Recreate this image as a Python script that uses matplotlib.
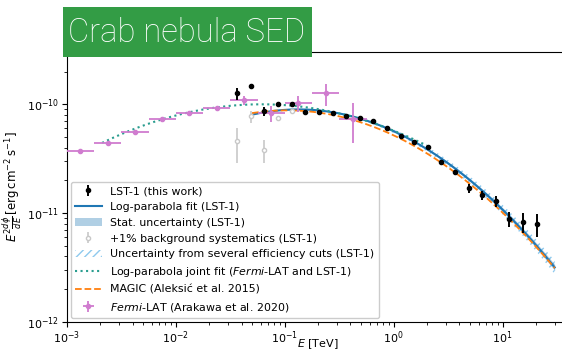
import numpy as np
import matplotlib
matplotlib.use("Agg")
import matplotlib.pyplot as plt
from matplotlib.patches import Rectangle

TEV_TO_ERG = 1.602

# LST-1 flux points (E in TeV, E^2 dN/dE in erg cm-2 s-1)
lst_energy = [0.0365, 0.0487, 0.0649, 0.0866, 0.1155, 0.154, 0.205, 0.274, 0.365, 0.487,
              0.649, 0.866, 1.155, 1.54, 2.05, 2.74, 3.65, 4.87, 6.49, 8.66, 11.5, 15.4, 20.5]
lst_flux = [1.26e-10, 1.46e-10, 8.6e-11, 1.0e-10, 1.0e-10, 8.45e-11, 8.45e-11, 8.26e-11, 7.76e-11,
            7.44e-11, 6.98e-11, 6.02e-11, 5.09e-11, 4.48e-11, 4.03e-11, 2.94e-11, 2.38e-11,
            1.69e-11, 1.46e-11, 1.29e-11, 8.8e-12, 8.26e-12, 7.94e-12]
lst_flux_err = [1.6e-11, 0.6e-11, 0.8e-11, 0.3e-11, 0.3e-11, 0.25e-11, 0.2e-11, 0.2e-11, 0.2e-11,
                0.2e-11, 0.2e-11, 0.15e-11, 0.15e-11, 0.13e-11, 0.13e-11, 0.1e-11, 0.12e-11,
                0.15e-11, 0.13e-11, 0.14e-11, 1.4e-12, 1.7e-12, 1.9e-12]

# +1% background systematics points
bkg_energy = [0.0365, 0.0487, 0.0649, 0.0866, 0.1155]
bkg_flux = [4.58e-11, 7.76e-11, 3.78e-11, 7.44e-11, 8.6e-11]
bkg_err_lo = [1.7e-11, 1.0e-11, 0.9e-11, 0.4e-11, 0.3e-11]
bkg_err_hi = [1.42e-11, 1.0e-11, 0.9e-11, 0.4e-11, 0.3e-11]

# Fermi-LAT (Arakawa et al. 2020)
fermi_energy = [0.00133, 0.00237, 0.00422, 0.0075, 0.0133, 0.0237, 0.0422, 0.075, 0.133, 0.237, 0.422]
fermi_e_min = [0.001, 0.00178, 0.00316, 0.00562, 0.01, 0.0178, 0.0316, 0.0562, 0.1, 0.178, 0.316]
fermi_e_max = [0.00178, 0.00316, 0.00562, 0.01, 0.0178, 0.0316, 0.0562, 0.1, 0.178, 0.316, 0.562]
fermi_flux = [3.71e-11, 4.39e-11, 5.53e-11, 7.28e-11, 8.27e-11, 9.19e-11, 1.09e-10, 8.27e-11,
              1.02e-10, 1.26e-10, 7.28e-11]
fermi_flux_err = [0.05e-11, 0.05e-11, 0.08e-11, 0.1e-11, 0.15e-11, 0.3e-11, 1.1e-11, 1.4e-11,
                  1.7e-11, 2.9e-11, 2.9e-11]

# log-parabola parameters: f0 [TeV-1 cm-2 s-1], E0 [TeV], alpha, beta (log10 base)
lst_fit = (3.05e-10, 0.4, 2.25, 0.2625)
lst_stat_hi = (3.07e-10, 0.4, 2.245, 0.258)
lst_stat_lo = (3.03e-10, 0.4, 2.255, 0.267)
lst_syst_hi = (3.12e-10, 0.4, 2.235, 0.256)
lst_syst_lo = (2.98e-10, 0.4, 2.265, 0.269)
lst_range = (0.05, 30.0)
joint_fit = (3.57e-11, 1.0, 2.40, 0.165)
joint_range = (0.0021, 2.0)
magic_fit = (3.23e-11, 1.0, 2.47, 0.24)
magic_range = (0.05, 30.0)


def sed(e, pars):
    f0, e0, a, b = pars
    x = np.log10(e / e0)
    return TEV_TO_ERG * e ** 2 * f0 * 10 ** (-(a + b * x) * x)


fig = plt.figure(figsize=(5.62, 3.51), dpi=100)
ax = fig.add_axes([0.1192, 0.0826, 0.911, 0.7692])
ax.set_xscale("log")
ax.set_yscale("log")

e_lst = np.logspace(np.log10(lst_range[0]), np.log10(lst_range[1]), 200)
e_joint = np.logspace(np.log10(joint_range[0]), np.log10(joint_range[1]), 200)
e_magic = np.logspace(np.log10(magic_range[0]), np.log10(magic_range[1]), 200)

h_lst = ax.errorbar(lst_energy, lst_flux, yerr=lst_flux_err, fmt="o", color="black",
                    ms=3, elinewidth=1.4, zorder=6, label="LST-1 (this work)")
h_fit, = ax.plot(e_lst, sed(e_lst, lst_fit), color="C0", lw=1.5, zorder=4,
                 label="Log-parabola fit (LST-1)")
h_stat = ax.fill_between(e_lst, sed(e_lst, lst_stat_lo), sed(e_lst, lst_stat_hi),
                         color="C0", alpha=0.35, lw=0, zorder=3,
                         label="Stat. uncertainty (LST-1)")
h_bkg = ax.errorbar(bkg_energy, bkg_flux, yerr=[bkg_err_lo, bkg_err_hi], fmt="o",
                    color="#c8c8c8", mfc="white", ms=3, elinewidth=1.2, zorder=5,
                    label="+1% background systematics (LST-1)")
h_syst = ax.fill_between(e_lst, sed(e_lst, lst_syst_lo), sed(e_lst, lst_syst_hi),
                         facecolor="none", edgecolor="#8ec9ee", hatch="////", lw=0, zorder=2,
                         label="Uncertainty from several efficiency cuts (LST-1)")
h_joint, = ax.plot(e_joint, sed(e_joint, joint_fit), color="#2a9d8f", ls=":", lw=1.5, zorder=4,
                   label=r"Log-parabola joint fit ($\it{Fermi}$-LAT and LST-1)")
h_magic, = ax.plot(e_magic, sed(e_magic, magic_fit), color="C1", ls="--", lw=1.3, zorder=4,
                   label="MAGIC (Aleksić et al. 2015)")
fermi_xerr = [np.array(fermi_energy) - np.array(fermi_e_min),
              np.array(fermi_e_max) - np.array(fermi_energy)]
h_fermi = ax.errorbar(fermi_energy, fermi_flux, xerr=fermi_xerr, yerr=fermi_flux_err, fmt="o",
                      color="#d07ccf", ms=3, elinewidth=1.3, zorder=5,
                      label=r"$\it{Fermi}$-LAT (Arakawa et al. 2020)")

ax.set_xlim(1e-3, 10 ** 1.7)
ax.set_ylim(1e-12, 10 ** -9.52)
ax.tick_params(labelsize=8, pad=2)
ax.set_xlabel(r"$E$ [TeV]", fontsize=8)
ax.xaxis.set_label_coords(0.49, -0.058)
ax.set_ylabel(r"$E^2\frac{d\phi}{dE}\,[\mathrm{erg\,cm^{-2}\,s^{-1}}]$", fontsize=8.5, labelpad=2)

ax.legend(handles=[h_lst, h_fit, h_stat, h_bkg, h_syst, h_joint, h_magic, h_fermi],
          loc="lower left", fontsize=7.9, labelspacing=0.53, borderaxespad=0.35,
          handlelength=2.4, handletextpad=0.8, framealpha=1)

# green title banner
fig.add_artist(Rectangle((0.112, 0.8376), 0.443, 0.1425, transform=fig.transFigure,
                         facecolor="#339c45", edgecolor="none", zorder=10))
fig.add_artist(plt.Text(0.121, 0.905, "Crab nebula SED", color="white", fontsize=23.6,
                        fontfamily="Roboto", fontweight="light", va="center", ha="left",
                        transform=fig.transFigure, zorder=11))

fig.savefig("out.png", dpi=100)
